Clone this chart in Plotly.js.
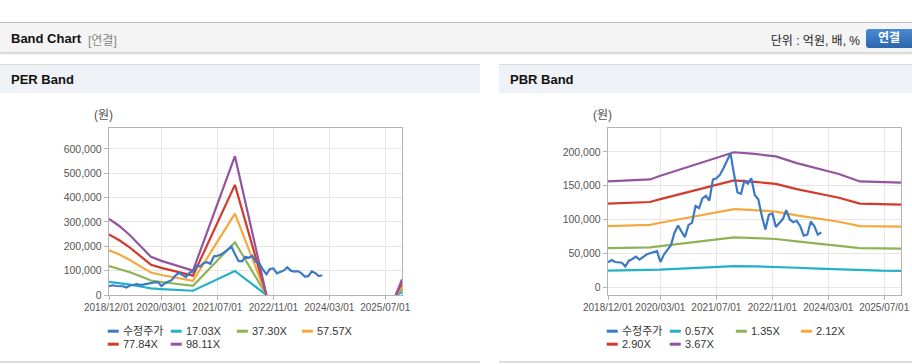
<!DOCTYPE html>
<html><head><meta charset="utf-8">
<script src="https://cdn.plot.ly/plotly-3.0.1.min.js"></script>
<style>
html,body{margin:0;padding:0;background:#fff;width:912px;height:364px;overflow:hidden;position:relative;font-family:"Liberation Sans","Noto Sans CJK KR",sans-serif;}
#topbar{position:absolute;left:0;top:22px;width:912px;height:29px;background:#f4f4f4;border-top:1px solid #bdbdbd;box-shadow:0 2px 2px rgba(0,0,0,0.18);}
#topbar .t{position:absolute;top:8px;font-size:13px;color:#111;font-weight:bold;}
#topbar .s{position:absolute;top:8px;font-size:12px;color:#888;}
#topbar .u{position:absolute;top:8px;right:52px;font-size:12px;color:#222;}
#btn{position:absolute;left:866px;top:6px;width:50px;height:19px;border-radius:3px;background:linear-gradient(#4b8ad2,#2b66ac);color:#fff;font-weight:bold;font-size:12px;line-height:19px;text-indent:12px;}
.ph{position:absolute;top:64px;height:28px;background:#eef1f6;border-top:1px solid #d6d9de;}
.ph span{position:absolute;left:11px;top:7px;font-size:13px;font-weight:bold;color:#111;}
.pb{position:absolute;top:361px;height:2px;background:#dcdcdc;}
.chart{position:absolute;top:93px;height:268px;}
</style></head>
<body>
<div id="topbar"><span class="t" style="left:11px">Band Chart</span><span class="s" style="left:88px">[연결]</span><span class="u">단위 : 억원, 배, %</span><div id="btn">연결</div></div>
<div class="ph" style="left:0;width:480px"><span>PER Band</span></div>
<div class="ph" style="left:499px;width:413px"><span>PBR Band</span></div>
<div id="per" class="chart" style="left:0;width:480px"></div>
<div id="pbr" class="chart" style="left:499px;width:413px"></div>
<div class="pb" style="left:0;width:480px"></div>
<div class="pb" style="left:499px;width:413px"></div>
<script>
// ---- data ----
const tickDates = ['2018-12-01','2020-03-01','2021-07-01','2022-11-01','2024-03-01','2025-07-01'];
const tickLabels = ['2018/12/01','2020/03/01','2021/07/01','2022/11/01','2024/03/01','2025/07/01'];
const xStart = '2018-12-01', xEnd = '2025-11-24';

const priceDates = ['2018-12-01','2019-01-01','2019-02-01','2019-03-01','2019-04-01','2019-05-01','2019-06-01','2019-07-01','2019-08-01','2019-09-01','2019-10-01','2019-11-01','2019-12-01',
'2020-01-01','2020-02-01','2020-03-01','2020-04-01','2020-05-01','2020-06-01','2020-07-01','2020-08-01','2020-09-01','2020-10-01','2020-11-01','2020-12-01',
'2021-01-01','2021-02-01','2021-03-01','2021-04-01','2021-05-01','2021-06-01','2021-07-01','2021-08-01','2021-09-01','2021-10-01','2021-11-01','2021-12-01',
'2022-01-01','2022-02-01','2022-03-01','2022-04-01','2022-05-01','2022-06-01','2022-07-01','2022-08-01','2022-09-01','2022-10-01','2022-11-01','2022-12-01',
'2023-01-01','2023-02-01','2023-03-01','2023-04-01','2023-05-01','2023-06-01','2023-07-01','2023-08-01','2023-09-01','2023-10-01','2023-11-01','2023-12-01','2024-01-01'];
const price = [36500,40000,37000,36500,36000,30500,39000,41500,45000,40500,44000,48000,50000,
52000,53000,37000,48000,55000,62000,80000,91000,82000,74000,92000,95000,
120000,117000,131000,135000,128000,159000,161000,166000,176000,186000,198000,168000,
140000,138000,157000,153000,161000,136000,130000,105000,85000,107000,109000,89000,
95000,101000,114000,100000,96000,98000,90000,76000,77500,97000,90000,77500,81000];

const perDates = ['2018-12-01','2019-03-01','2019-06-01','2019-09-01','2019-12-01','2020-03-01','2020-06-01','2020-09-01','2020-12-01','2021-12-01','2022-09-01','2023-06-01','2025-10-01','2025-11-24'];
const per1 = [54300,49200,42600,35100,27200,24400,22100,19400,17400,98900,0,null,0,11100];
const per2 = [119000,107800,93300,76800,59700,53300,48500,42500,38000,216700,0,null,0,24200];
const per3 = [183600,166400,143900,118600,92100,82300,74800,65600,58700,334500,0,null,0,37400];
const per4 = [248300,225000,194600,160400,124500,111300,101200,88700,79400,452300,0,null,0,50600];
const per5 = [313000,283500,245300,202100,157000,140300,127500,111800,100100,570000,0,null,0,63800];
const perNames = ['수정주가','17.03X','37.30X','57.57X','77.84X','98.11X'];
const perTicks = [0,100000,200000,300000,400000,500000,600000];

const pbrDates = ['2018-12-01','2019-12-01','2020-03-01','2020-06-01','2020-12-01','2021-06-01','2021-12-01','2022-06-01','2022-12-01','2023-06-01','2023-12-01','2024-06-01','2024-12-01','2025-06-01','2025-11-24'];
const pbr1 = [24300,24700,25600,26400,27900,29500,31000,30600,30000,28500,27200,26000,24300,24200,24000];
const pbr2 = [57500,58600,60600,62500,66200,69900,73400,72500,71100,67500,64500,61600,57500,57200,56800];
const pbr3 = [90300,92000,95200,98200,103900,109800,115300,113800,111700,106000,101300,96700,90300,89900,89300];
const pbr4 = [123500,125900,130200,134300,142100,150200,157800,155700,152800,145000,138600,132200,123500,123000,122100];
const pbr5 = [156300,159300,164800,169900,179800,190100,199600,197100,193400,183500,175400,167400,156300,155600,154500];
const pbrNames = ['수정주가','0.57X','1.35X','2.12X','2.90X','3.67X'];
const pbrTicks = [0,50000,100000,150000,200000];

const colors = ['#3b79c6','#22b1c9','#8db454','#f4a93c','#d23a2c','#9455a0'];

// ---- drawing ----
const FONT = '"Liberation Sans","Noto Sans CJK KR",sans-serif';
const M = {l:109.3, t:35.3, b:65.7};
const H = 268;

function fmt(v){return v.toLocaleString('en-US');}

function draw(id, W, r, bandDates, bands, names, yTicks, yRange){
  const traces = [];
  bands.forEach((b,i)=>{
    traces.push({x:bandDates, y:b, type:'scatter', mode:'lines', name:names[i+1],
      line:{color:colors[i+1], width:2.2}, connectgaps:false, hoverinfo:'x+y'});
  });
  traces.push({x:priceDates, y:price, type:'scatter', mode:'lines', name:names[0],
    line:{color:colors[0], width:2.2}, hoverinfo:'x+y'});
  const pw = W - M.l - r, ph = H - M.t - M.b;
  const px = v => (v - M.l)/pw;
  const py = v => (H - M.b - v)/ph;
  const legX = [108,171,237,302,108,171];
  const legY = [238.5,238.5,238.5,238.5,251.5,251.5];
  const shapes = [], ann = [];
  names.forEach((n,i)=>{
    shapes.push({type:'line', xref:'paper', yref:'paper', x0:px(legX[i]), x1:px(legX[i]+11), y0:py(legY[i]), y1:py(legY[i]),
      line:{color:colors[i], width:3}});
    ann.push({xref:'paper', yref:'paper', x:px(legX[i]+13), y:py(legY[i]), xanchor:'left', yanchor:'middle',
      text:n, showarrow:false, font:{family:FONT, size:11, color:'#333'}});
  });
  ann.push({xref:'paper', yref:'paper', x:0, y:1, xanchor:'right', yanchor:'bottom', xshift:6, yshift:4,
    text:'(원)', showarrow:false, font:{family:FONT, size:12, color:'#555'}});
  const axisCommon = {showgrid:true, gridcolor:'#e6e6e6', gridwidth:1, showline:true, mirror:true, linecolor:'#b4b4b4', linewidth:1.3,
      ticks:'outside', ticklen:4, tickcolor:'#b4b4b4', zeroline:false, fixedrange:true, tickangle:0};
  const layout = {
    width:W, height:H, margin:{l:M.l, r:r, t:M.t, b:M.b, pad:0},
    paper_bgcolor:'rgba(0,0,0,0)', plot_bgcolor:'#fff', showlegend:false,
    xaxis:Object.assign({type:'date', range:[xStart,xEnd], tickmode:'array', tickvals:tickDates, ticktext:tickLabels,
      tickfont:{family:FONT, size:10, color:'#555'}, ticklabelstandoff:-1}, axisCommon),
    yaxis:Object.assign({range:yRange, tickmode:'array', tickvals:yTicks, ticktext:yTicks.map(fmt),
      tickfont:{family:FONT, size:10.5, color:'#555'}}, axisCommon),
    shapes:shapes, annotations:ann
  };
  Plotly.newPlot(id, traces, layout, {displayModeBar:false, staticPlot:true});
}

draw('per', 480, 78, perDates, [per1,per2,per3,per4,per5], perNames, perTicks, [0, 686000]);
draw('pbr', 413, 11, pbrDates, [pbr1,pbr2,pbr3,pbr4,pbr5], pbrNames, pbrTicks, [-11850, 235500]);
</script>
</body></html>
